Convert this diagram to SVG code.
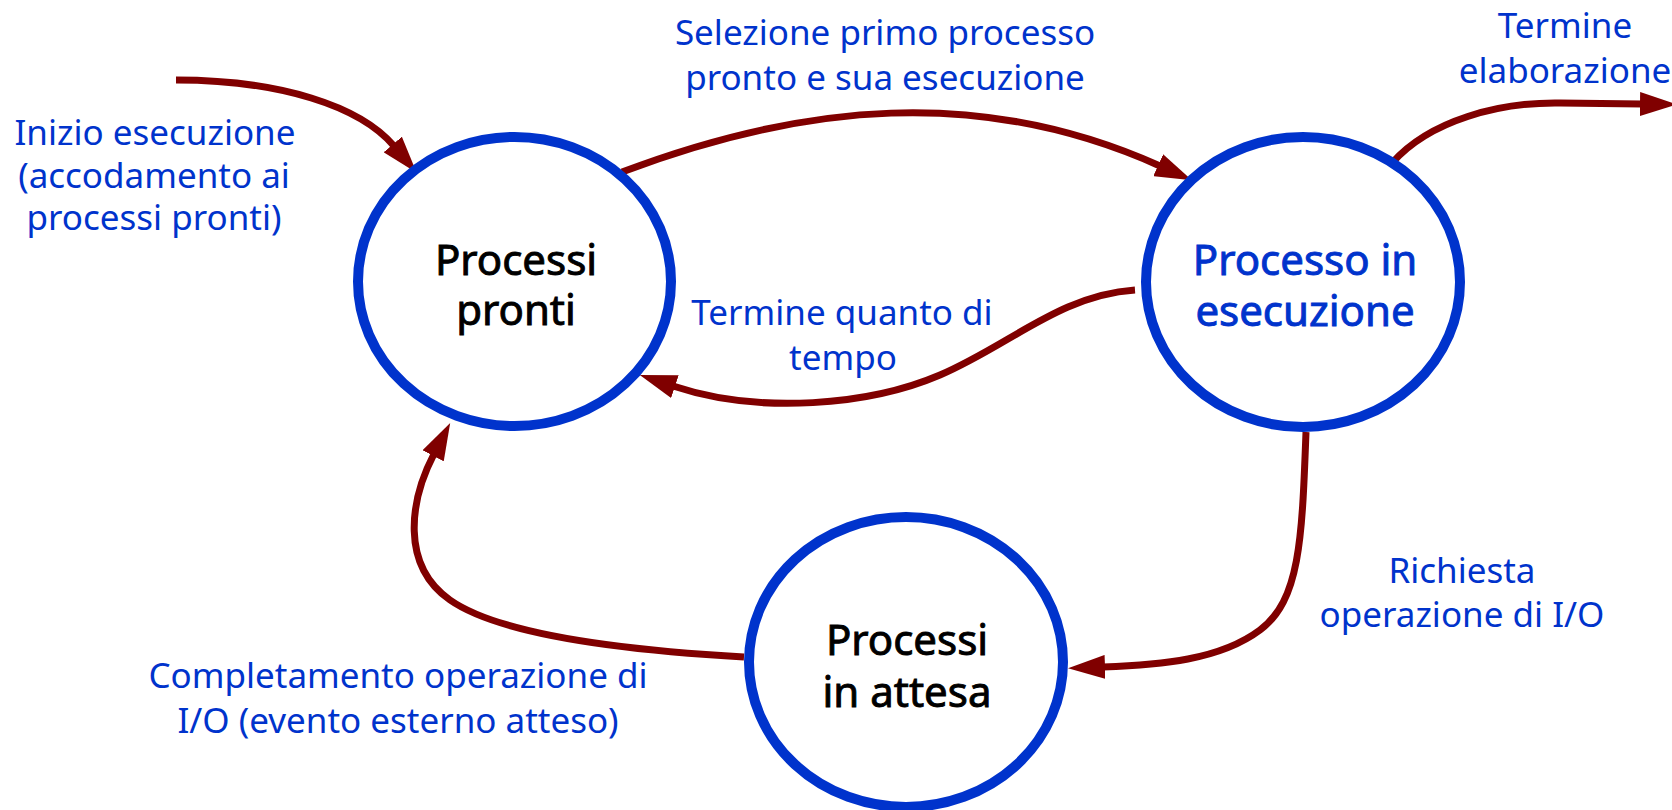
<svg xmlns="http://www.w3.org/2000/svg" width="1672" height="810" viewBox="0 0 1672 810">
<defs>
<style>
.node ellipse{fill:#ffffff;stroke:#0033CC;stroke-width:10}
.ntext{font-family:"Noto Sans","DejaVu Sans",sans-serif;font-size:42px;text-anchor:middle;stroke-width:0.9}
.black{fill:#000000;stroke:#000000}
.blue{fill:#0033CC;stroke:#0033CC}
.lbl{font-family:"Noto Sans","DejaVu Sans",sans-serif;font-size:35px;fill:#0033CC;text-anchor:middle}
.edge{fill:none;stroke:#800000;stroke-width:7;marker-end:url(#arr)}
</style>
<marker id="arr" viewBox="0 0 37 24" refX="2" refY="12" markerWidth="37" markerHeight="24" markerUnits="userSpaceOnUse" orient="auto">
<path d="M0,0 L37,12 L0,24 z" fill="#800000"/>
</marker>
</defs>
<rect width="1672" height="810" fill="#ffffff"/>
<g id="connectors">
<path class="edge" d="M176,80 C280,80 360,106 394,146"/>
<path class="edge" d="M622,172 C802,104 980,85 1160,166"/>
<path class="edge" d="M1392,163 C1430,120 1500,102 1560,103 L1642,104"/>
<path class="edge" d="M1135,290 C1060,295 1010,345 940,375 S760,415 673,386"/>
<path class="edge" d="M1306,432 C1302,540 1300,600 1260,630 S1160,665 1103,667"/>
<path class="edge" d="M744,657 C620,650 500,635 450,600 S410,500 434,454"/>
</g>
<g id="node-pronti" class="node">
<ellipse cx="514.5" cy="281.5" rx="156.5" ry="144.5"/>
<text class="ntext black"><tspan x="516" y="275">Processi</tspan><tspan x="516" y="325">pronti</tspan></text>
</g>
<g id="node-esecuzione" class="node">
<ellipse cx="1303" cy="282" rx="157" ry="145"/>
<text class="ntext blue"><tspan x="1305" y="275">Processo in</tspan><tspan x="1305" y="326">esecuzione</tspan></text>
</g>
<g id="node-attesa" class="node">
<ellipse cx="906" cy="662" rx="157" ry="145"/>
<text class="ntext black"><tspan x="907" y="655">Processi</tspan><tspan x="907" y="707">in attesa</tspan></text>
</g>
<g id="labels">
<text class="lbl"><tspan x="155" y="145">Inizio esecuzione</tspan><tspan x="154" y="188">(accodamento ai</tspan><tspan x="154" y="230">processi pronti)</tspan></text>
<text class="lbl"><tspan x="885" y="45">Selezione primo processo</tspan><tspan x="885" y="90">pronto e sua esecuzione</tspan></text>
<text class="lbl"><tspan x="1565" y="38">Termine</tspan><tspan x="1565" y="83">elaborazione</tspan></text>
<text class="lbl"><tspan x="842" y="325">Termine quanto di</tspan><tspan x="843" y="370">tempo</tspan></text>
<text class="lbl"><tspan x="1462" y="583">Richiesta</tspan><tspan x="1462" y="627">operazione di I/O</tspan></text>
<text class="lbl"><tspan x="398" y="688">Completamento operazione di</tspan><tspan x="398" y="733">I/O (evento esterno atteso)</tspan></text>
</g>
</svg>
